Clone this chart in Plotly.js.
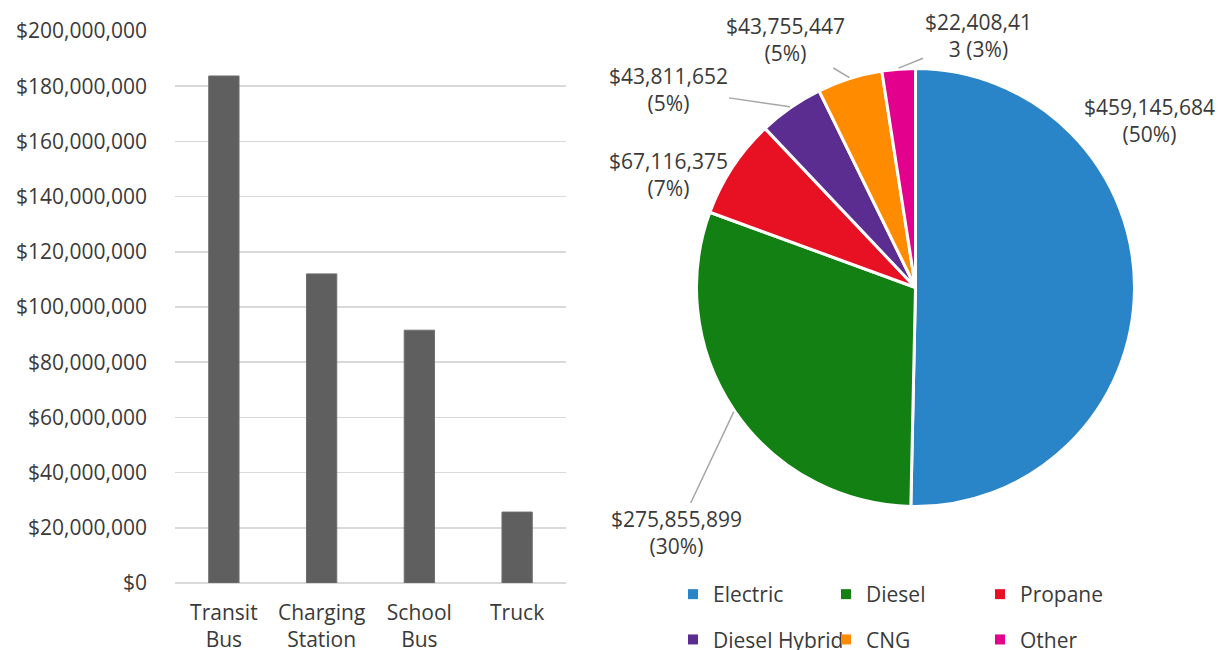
<!DOCTYPE html>
<html>
<head>
<meta charset="utf-8">
<script src="https://cdn.plot.ly/plotly-3.0.1.min.js"></script>
<style>
  html, body { margin: 0; padding: 0; background: #ffffff; }
  #chart { width: 1228px; height: 650px; }
</style>
</head>
<body>
<div id="chart"></div>
<script>
// ---------------- DATA ----------------
// Bar chart: funding by project type
const barCategories = ['Transit Bus', 'Charging Station', 'School Bus', 'Truck'];
const barValues = [183700000, 112000000, 91600000, 25700000];

// Pie chart: funding by fuel type
const fuelTypes = ['Electric', 'Diesel', 'Propane', 'Diesel Hybrid', 'CNG', 'Other'];
const fuelValues = [459145684, 275855899, 67116375, 43811652, 43755447, 22408413];
const fuelPercentLabels = ['50%', '30%', '7%', '5%', '5%', '3%'];

// ---------------- STYLE / LAYOUT ----------------
const W = 1228, H = 650;
const FONT = 'Open Sans, Noto Sans, sans-serif';
const TEXT_COLOR = '#3a3a3a';
const FS = 21;
const fuelColors = ['#2984C8', '#138013', '#E81123', '#5C2D91', '#FF8C00', '#E3008C'];
const barColor = '#5f5f5f';

// pie geometry (pixels)
const pieCx = 915.5, pieCy = 287.5, pieR = 219;

// label block centres (pixels) and whether a leader line is drawn
const labelPos = [[1149, 120], [677, 532], [668, 174], [668, 89], [785, 39], [978, 36]];
const labelLine = [false, true, false, true, true, true];
const labelBreakAt = [null, null, null, null, null, 10];

// legend columns (pixel left of legend box) and top
const legendCols = [673, 826, 980];
const legendTop = 574;

function money(v) { return '$' + v.toLocaleString('en-US'); }

const total = fuelValues.reduce((a, b) => a + b, 0);
let cum = 0;
const annotations = fuelValues.map((v, i) => {
  const mid = (cum + v / 2) / total * 2 * Math.PI;
  cum += v;
  const tipX = pieCx + (pieR + 1) * Math.sin(mid);
  const tipY = pieCy - (pieR + 1) * Math.cos(mid);
  let text;
  const full = money(v) + ' (' + fuelPercentLabels[i] + ')';
  if (labelBreakAt[i] != null) {
    text = full.slice(0, labelBreakAt[i]) + '<br>' + full.slice(labelBreakAt[i]);
  } else {
    text = money(v) + '<br>(' + fuelPercentLabels[i] + ')';
  }
  const [lx, ly] = labelPos[i];
  const base = {
    text: text, xref: 'paper', yref: 'paper', align: 'center',
    font: { family: FONT, size: FS, color: TEXT_COLOR }
  };
  if (labelLine[i]) {
    return Object.assign(base, {
      x: tipX / W, y: 1 - tipY / H,
      showarrow: true, arrowhead: 0, arrowwidth: 1.5, arrowcolor: '#a6a6a6',
      axref: 'pixel', ayref: 'pixel', ax: lx - tipX, ay: ly - tipY
    });
  }
  return Object.assign(base, {
    x: lx / W, y: 1 - ly / H, xanchor: 'center', yanchor: 'middle', showarrow: false
  });
});

const traces = [];
traces.push({
  type: 'bar', x: barCategories, y: barValues,
  marker: { color: barColor, line: { color: '#6e6e6e', width: 1 } },
  showlegend: false, hoverinfo: 'none', xaxis: 'x', yaxis: 'y'
});
traces.push({
  type: 'pie', labels: fuelTypes, values: fuelValues,
  marker: { colors: fuelColors, line: { color: '#ffffff', width: 3 } },
  sort: false, direction: 'clockwise', rotation: 0,
  textinfo: 'none', textposition: 'none', hoverinfo: 'none', showlegend: false,
  domain: { x: [(pieCx - pieR) / W, (pieCx + pieR) / W], y: [1 - (pieCy + pieR) / H, 1 - (pieCy - pieR) / H] }
});
// legend entries (3 columns x 2 rows)
const legendIds = ['legend', 'legend2', 'legend3'];
fuelTypes.forEach((name, i) => {
  traces.push({
    type: 'scatter', x: [null], y: [null], mode: 'markers', name: name,
    marker: { symbol: 'square', size: 10, color: fuelColors[i] },
    legend: legendIds[i % 3], legendgroup: name, showlegend: true, hoverinfo: 'skip',
    xaxis: 'x', yaxis: 'y'
  });
});

const legendBase = {
  orientation: 'v', xanchor: 'left', yanchor: 'top', y: 1 - legendTop / H,
  bgcolor: 'rgba(0,0,0,0)', tracegroupgap: 15, itemclick: false, itemdoubleclick: false,
  font: { family: FONT, size: FS, color: TEXT_COLOR }
};

const layout = {
  width: W, height: H,
  margin: { l: 0, r: 0, t: 0, b: 0, autoexpand: false },
  paper_bgcolor: '#ffffff', plot_bgcolor: '#ffffff',
  font: { family: FONT, size: FS, color: TEXT_COLOR },
  showlegend: true,
  bargap: 0.69,
  xaxis: {
    domain: [175 / W, 566 / W], type: 'category', range: [-0.5, 3.5],
    tickvals: barCategories, ticktext: barCategories.map(c => c.replace(' ', '<br>')),
    showgrid: false, showline: false, zeroline: false, ticks: '', automargin: false,
    ticklabelstandoff: 15, tickfont: { family: FONT, size: FS, color: TEXT_COLOR }, fixedrange: true
  },
  yaxis: {
    domain: [1 - 583 / H, 1 - 31 / H], range: [0, 200000000], dtick: 20000000, tick0: 0,
    tickformat: '$,.0f', showgrid: true, gridcolor: '#d9d9d9', gridwidth: 1.5, automargin: false,
    zeroline: true, zerolinecolor: '#d9d9d9', zerolinewidth: 1.5, showline: false, ticks: '',
    ticklabelstandoff: 27, tickfont: { family: FONT, size: FS, color: TEXT_COLOR }, fixedrange: true
  },
  legend: Object.assign({}, legendBase, { x: legendCols[0] / W }),
  legend2: Object.assign({}, legendBase, { x: legendCols[1] / W }),
  legend3: Object.assign({}, legendBase, { x: legendCols[2] / W }),
  annotations: annotations
};

Plotly.newPlot('chart', traces, layout, { displayModeBar: false, staticPlot: true });
</script>
</body>
</html>
